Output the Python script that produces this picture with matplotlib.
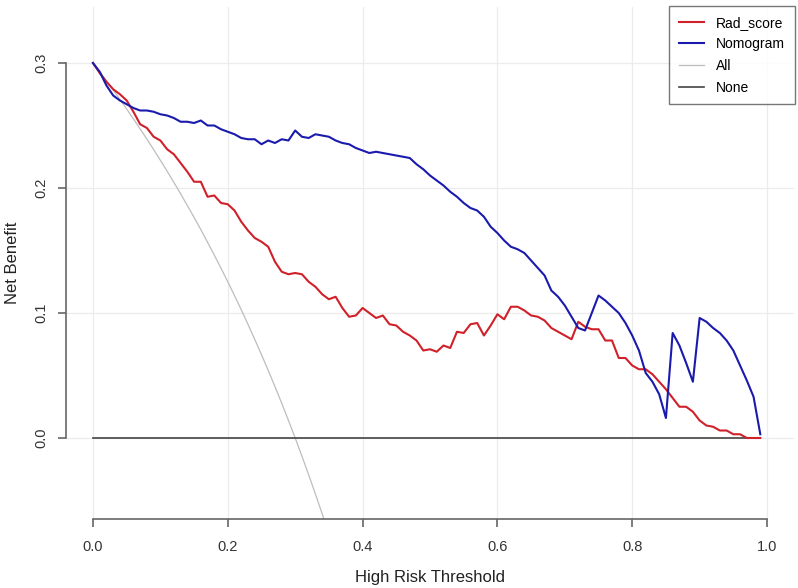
import matplotlib
matplotlib.use("Agg")
import matplotlib.pyplot as plt

plt.rcParams['font.family'] = ['Liberation Sans', 'DejaVu Sans']

# decision curve values (threshold step 0.01)
thresholds = [i / 100 for i in range(100)]
rad_score = [
    0.300, 0.292, 0.285, 0.279, 0.275, 0.270, 0.261, 0.251, 0.248, 0.241,
    0.238, 0.231, 0.227, 0.220, 0.213, 0.205, 0.205, 0.193, 0.194, 0.188,
    0.187, 0.182, 0.173, 0.166, 0.160, 0.157, 0.153, 0.141, 0.133, 0.131,
    0.132, 0.131, 0.125, 0.121, 0.115, 0.111, 0.113, 0.104, 0.097, 0.098,
    0.104, 0.100, 0.096, 0.098, 0.091, 0.090, 0.085, 0.082, 0.078, 0.070,
    0.071, 0.069, 0.074, 0.072, 0.085, 0.084, 0.091, 0.092, 0.082, 0.090,
    0.099, 0.095, 0.105, 0.105, 0.102, 0.098, 0.097, 0.094, 0.088, 0.085,
    0.082, 0.079, 0.093, 0.089, 0.087, 0.087, 0.078, 0.078, 0.064, 0.064,
    0.058, 0.055, 0.055, 0.051, 0.045, 0.039, 0.032, 0.025, 0.025, 0.021,
    0.014, 0.010, 0.009, 0.006, 0.006, 0.003, 0.003, 0.000, 0.000, 0.000,
]
nomogram = [
    0.300, 0.293, 0.282, 0.274, 0.270, 0.267, 0.264, 0.262, 0.262, 0.261,
    0.259, 0.258, 0.256, 0.253, 0.253, 0.252, 0.254, 0.250, 0.250, 0.247,
    0.245, 0.243, 0.240, 0.239, 0.239, 0.235, 0.238, 0.236, 0.239, 0.238,
    0.246, 0.241, 0.240, 0.243, 0.242, 0.241, 0.238, 0.236, 0.235, 0.232,
    0.230, 0.228, 0.229, 0.228, 0.227, 0.226, 0.225, 0.224, 0.219, 0.215,
    0.210, 0.206, 0.202, 0.197, 0.193, 0.188, 0.184, 0.182, 0.177, 0.169,
    0.164, 0.158, 0.153, 0.151, 0.148, 0.142, 0.136, 0.130, 0.118, 0.113,
    0.106, 0.097, 0.088, 0.086, 0.100, 0.114, 0.110, 0.105, 0.100, 0.092,
    0.082, 0.070, 0.052, 0.045, 0.035, 0.016, 0.084, 0.074, 0.060, 0.045,
    0.096, 0.093, 0.088, 0.084, 0.078, 0.070, 0.058, 0.046, 0.033, 0.003,
]
all_x = thresholds[:36]
all_y = [0.3000, 0.2929, 0.2857, 0.2784, 0.2708, 0.2632, 0.2553, 0.2473, 0.2391,
         0.2308, 0.2222, 0.2135, 0.2045, 0.1954, 0.1860, 0.1765, 0.1667, 0.1566,
         0.1463, 0.1358, 0.1250, 0.1139, 0.1026, 0.0909, 0.0789, 0.0667, 0.0541,
         0.0411, 0.0278, 0.0141, 0.0000, -0.0145, -0.0294, -0.0448, -0.0606,
         -0.0769]
none_y = [0.0] * len(thresholds)

x_ticks = [0.0, 0.2, 0.4, 0.6, 0.8, 1.0]
y_ticks = [0.0, 0.1, 0.2, 0.3]

fig = plt.figure(figsize=(7.98, 5.88), dpi=100)
ax = fig.add_axes([66 / 798, 69 / 588, 728 / 798, 512 / 588])

ax.plot(all_x, all_y, color='#bdbdbd', lw=0.9, label='All', zorder=2)
ax.plot(thresholds, none_y, color='#444444', lw=1.2, label='None', zorder=2)
ax.plot(thresholds, rad_score, color='#d0202a', lw=1.5, label='Rad_score', zorder=3)
ax.plot(thresholds, nomogram, color='#1a1aad', lw=1.5, label='Nomogram', zorder=3)

ax.set_xlim(-0.04, 1.04)
ax.set_ylim(-0.0648, 0.3448)
ax.set_xticks(x_ticks)
ax.set_yticks(y_ticks)
ax.set_xticklabels(['%.1f' % v for v in x_ticks])
ax.set_yticklabels(['%.1f' % v for v in y_ticks], rotation=90, va='center')
ax.grid(True, color='#ececec', lw=0.9, zorder=0)
ax.set_axisbelow(True)

for s in ['top', 'right']:
    ax.spines[s].set_visible(False)
ax.spines['left'].set_bounds(0, 0.3)
ax.spines['bottom'].set_bounds(0, 1)
for s in ['left', 'bottom']:
    ax.spines[s].set_color('#666666')
    ax.spines[s].set_linewidth(1.2)
ax.tick_params(axis='both', colors='#666666', width=1.2, length=6,
               labelcolor='#333333', labelsize=10.5)
ax.tick_params(axis='x', pad=9)
ax.tick_params(axis='y', pad=7)

ax.set_xlabel('High Risk Threshold', fontsize=12, color='#222222')
ax.set_ylabel('Net Benefit', fontsize=12, color='#222222')
ax.xaxis.set_label_coords(0.5, -0.1)
ax.yaxis.set_label_coords(-0.063, 0.5)

h, l = ax.get_legend_handles_labels()
order = [2, 3, 0, 1]
leg = ax.legend([h[i] for i in order], [l[i] for i in order],
                loc='upper right', bbox_to_anchor=(795 / 798, 1 - 6 / 588),
                bbox_transform=fig.transFigure, fontsize=10, frameon=True,
                fancybox=False, edgecolor='#555555', borderpad=0.7,
                labelspacing=0.55, handlelength=1.8, handletextpad=0.9,
                borderaxespad=0)
leg.get_frame().set_linewidth(1.0)

fig.savefig('out.png', dpi=100)
